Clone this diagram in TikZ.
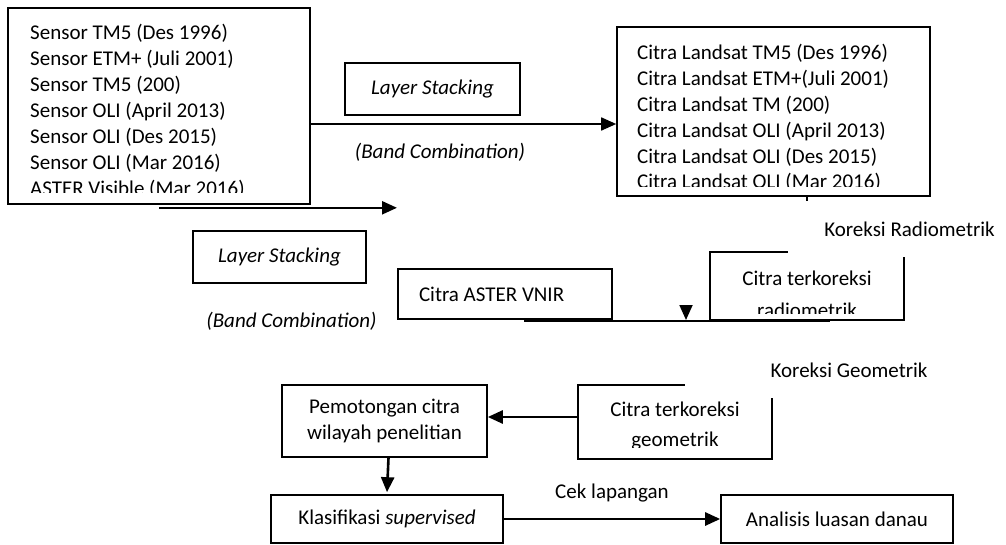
\documentclass[tikz,border=0pt]{standalone}
\usepackage{fontspec}
\setmainfont{Carlito}
\usepackage{tikz}
\usetikzlibrary{arrows.meta,positioning,calc}

\begin{document}
\begin{tikzpicture}
[x=1pt, y=-1pt, >={Triangle[length=15pt,width=13pt]},
every node/.style={font=\fontsize{21}{25.8}\selectfont},
box/.style={rectangle, draw, line width=1.6pt, inner sep=0pt},
lbl/.style={fill=white, inner sep=0pt},
arr/.style={->, line width=1.8pt}]
\useasboundingbox (0,0) rectangle (1006,545);

% boxes
\node (sensor) at (159,106) [box, minimum width=302pt, minimum height=196pt] {};
\node (landsat) at (773.5,111.5) [box, minimum width=313pt, minimum height=169pt] {};
\node (stack1) at (432.5,89) [box, minimum width=175pt, minimum height=52pt] {\itshape Layer Stacking};
\node (stack2) at (279.5,257) [box, minimum width=173pt, minimum height=52pt] {\itshape Layer Stacking};
\node (aster) at (505,294) [box, minimum width=214pt, minimum height=50pt, text width=172pt, align=flush left] {Citra ASTER VNIR};
\node (radio) at (807,286) [box, minimum width=194pt, minimum height=68pt] {};
\node (geom) at (675,422) [box, minimum width=194pt, minimum height=74pt] {};
\node (pemo) at (384.5,421) [box, minimum width=205pt, minimum height=72pt, align=center] {Pemotongan citra\\wilayah penelitian};
\node (klas) at (387,519) [box, minimum width=232pt, minimum height=48pt] {Klasifikasi \textit{supervised}};
\node (luas) at (837,519) [box, minimum width=232pt, minimum height=48pt] {Analisis luasan danau};

\node (band1) at (440,152) {\itshape (Band Combination)};
\node (band2) at (291.5,321) {\itshape (Band Combination)};

% text inside the boxes, cut at the bottom
\begin{scope}
\clip (sensor.north west) rectangle ([yshift=12pt]sensor.south east);
\foreach \txt [count=\i] in {Sensor TM5 (Des 1996), Sensor ETM+ (Juli 2001), Sensor TM5 (200), Sensor OLI (April 2013), Sensor OLI (Des 2015), Sensor OLI (Mar 2016), ASTER Visible (Mar 2016)}
  \node (s\i) at (30,{40+25.9*(\i-1)}) [anchor=base west, inner sep=0pt] {\txt};
\end{scope}
\begin{scope}
\clip (landsat.north west) rectangle ([yshift=10pt]landsat.south east);
\foreach \txt [count=\i] in {Citra Landsat TM5 (Des 1996), Citra Landsat ETM+(Juli 2001), Citra Landsat TM (200), Citra Landsat OLI (April 2013), Citra Landsat OLI (Des 2015), Citra Landsat OLI (Mar 2016)}
  \node (c\i) at (637,{60+25.8*(\i-1)}) [anchor=base west, inner sep=0pt] {\txt};
\end{scope}
\begin{scope}
\clip (radio.north west) rectangle ([yshift=7pt]radio.south east);
\node (r1) at (807,286) [anchor=base, inner sep=0pt] {Citra terkoreksi};
\node (r2) at (807,317) [anchor=base, inner sep=0pt] {radiometrik};
\end{scope}
\begin{scope}
\clip (geom.north west) rectangle ([yshift=12pt]geom.south east);
\node (g1) at (675,416) [anchor=base, inner sep=0pt] {Citra terkoreksi};
\node (g2) at (675,446) [anchor=base, inner sep=0pt] {geometrik};
\end{scope}

% connectors
\draw[arr, line width=1.7pt] ([yshift=-18pt]sensor.east) -- ([yshift=-18pt]sensor.east -| landsat.west);
\draw[arr, line width=2.4pt] ([yshift=-3pt]sensor.south) -- ++(238,0);
\draw[arr] (radio.north |- landsat.south) -- (radio.north);
\coordinate (j1) at (524,321);
\coordinate (j2) at (830,321);
\draw[line width=2.8pt] (j1) -- (j2);
\coordinate (t1) at (686,305);
\coordinate (t2) at (686,320);
\draw[arr] (t1) -- (t2);
\draw[arr, line width=2.6pt] ([yshift=5pt]geom.west) -- ([yshift=5pt]geom.west -| pemo.east);
\draw[arr, line width=2.6pt] ([xshift=4pt]pemo.south) -- ([yshift=2pt]klas.north);
\draw[arr, line width=2.6pt] (klas.east) -- (luas.west) node[midway, above=12pt] {Cek lapangan};

% labels
\node (korrad) at (909.5,229) [lbl, minimum width=243pt, minimum height=56pt] {Koreksi Radiometrik};
\node (korgeo) at (849,370) [lbl, minimum width=328pt, minimum height=56pt] {Koreksi Geometrik};

\end{tikzpicture}
\end{document}
